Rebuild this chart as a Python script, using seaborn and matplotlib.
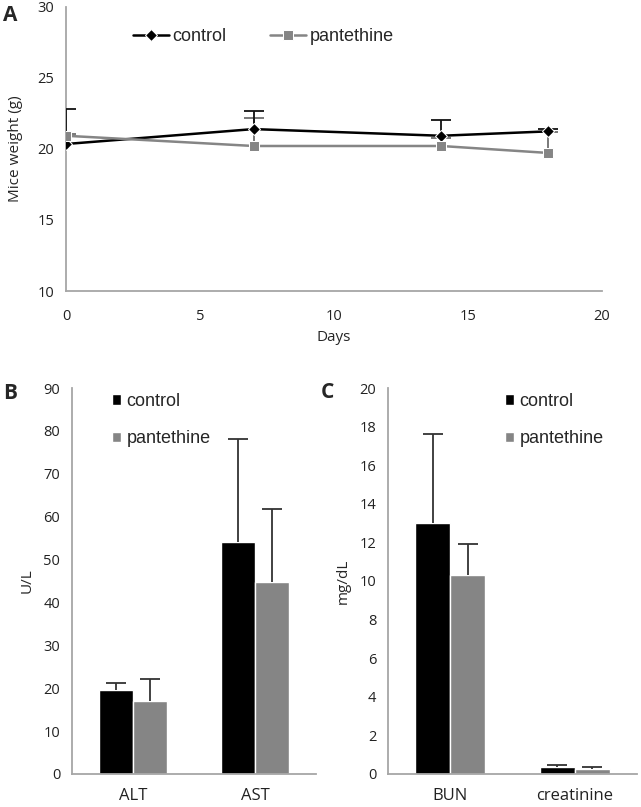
import numpy as np
import pandas as pd
import matplotlib.pyplot as plt
import seaborn as sns

sns.set_style('white')
plt.rcParams['font.family'] = ['Open Sans', 'DejaVu Sans']

# data
days = [0, 7, 14, 18]
ctrl_weight = [20.35, 21.4, 20.93, 21.24]
ctrl_weight_err = [2.45, 1.3, 1.13, 0.2]
pant_weight = [20.93, 20.21, 20.21, 19.72]
pant_weight_err = [0.12, 1.95, 0.55, 1.5]

liver_tests = ['ALT', 'AST']
ctrl_liver = [19.6, 54.0]
ctrl_liver_err = [1.6, 24.2]
pant_liver = [17.1, 44.8]
pant_liver_err = [5.0, 17.1]

kidney_tests = ['BUN', 'creatinine']
ctrl_kidney = [13.0, 0.35]
ctrl_kidney_err = [4.6, 0.1]
pant_kidney = [10.3, 0.28]
pant_kidney_err = [1.6, 0.1]

groups = ['control', 'pantethine']
colors = {'control': '#000000', 'pantethine': '#858585'}
axis_col = '#a6a6a6'
legend_font = {'family': 'Liberation Sans', 'size': 13}

fig = plt.figure(figsize=(6.41, 8.07), dpi=100)
axA = fig.add_axes([0.103, 0.6394, 0.836, 0.352])
axB = fig.add_axes([0.1123, 0.0409, 0.3807, 0.4783])
axC = fig.add_axes([0.6053, 0.0409, 0.3885, 0.4783])


def style_axis(ax):
    sns.despine(ax=ax)
    for s in ['left', 'bottom']:
        ax.spines[s].set_color(axis_col)
        ax.spines[s].set_linewidth(1.3)
    ax.tick_params(axis='both', which='major', direction='out', length=5,
                   width=1.3, color=axis_col, labelsize=10.5,
                   labelcolor='#222222')


def upper_err(ax, xs, ys, errs, color):
    eb = ax.errorbar(xs, ys, yerr=[np.zeros(len(xs)), errs], fmt='none',
                     ecolor=color, elinewidth=1.3, capsize=7.5,
                     capthick=1.3, zorder=3)
    eb[1][0].set_visible(False)


# A: weight over time
wdf = pd.DataFrame({
    'Days': days * 2,
    'weight': ctrl_weight + pant_weight,
    'group': ['control'] * 4 + ['pantethine'] * 4,
})
sns.lineplot(data=wdf, x='Days', y='weight', hue='group', style='group',
             markers={'control': 'D', 'pantethine': 's'}, dashes=False,
             palette=colors, linewidth=1.8, markersize=6.5, ax=axA, zorder=4)
upper_err(axA, days, pant_weight, pant_weight_err, '#6e6e6e')
upper_err(axA, days, ctrl_weight, ctrl_weight_err, '#111111')
axA.set_xlim(0, 20)
axA.set_ylim(10, 30)
axA.set_xticks([0, 5, 10, 15, 20])
axA.set_yticks([10, 15, 20, 25, 30])
axA.set_xlabel('Days', fontsize=11, labelpad=4)
axA.set_ylabel('Mice weight (g)', fontsize=11, labelpad=10)
style_axis(axA)
axA.tick_params(axis='x', pad=8)
axA.legend(title=None, ncol=2, frameon=False, loc='center left',
           bbox_to_anchor=(0.125, 0.895), borderaxespad=0, borderpad=0,
           handlelength=2.0, handletextpad=0.2, columnspacing=2.4,
           prop=legend_font)


def bar_panel(ax, tests, cvals, cerr, pvals, perr, ymax, step, ylabel, legx):
    df = pd.DataFrame({
        'test': tests * 2,
        'value': cvals + pvals,
        'group': ['control'] * len(tests) + ['pantethine'] * len(tests),
    })
    sns.barplot(data=df, x='test', y='value', hue='group', palette=colors,
                errorbar=None, width=0.56, saturation=1, ax=ax, zorder=2)
    for cont, errs in zip(ax.containers, [cerr, perr]):
        xs = [p.get_x() + p.get_width() / 2 for p in cont.patches]
        hs = [p.get_height() for p in cont.patches]
        upper_err(ax, xs, hs, errs, '#333333')
    ax.set_xlim(-0.5, len(tests) - 0.5)
    ax.set_ylim(0, ymax)
    ax.set_yticks(np.arange(0, ymax + step / 2, step))
    ax.set_xticks(np.arange(-0.5, len(tests), 1.0))
    ax.set_xticklabels([])
    ax.set_xticks(range(len(tests)), labels=tests, minor=True)
    ax.tick_params(axis='x', which='minor', length=0, pad=10, labelsize=12,
                   labelcolor='#222222')
    ax.set_xlabel('')
    ax.set_ylabel(ylabel, fontsize=11, labelpad=6)
    style_axis(ax)
    ax.legend(title=None, frameon=False, loc='upper left',
              bbox_to_anchor=(legx, 0.988), borderaxespad=0, borderpad=0,
              handlelength=0.5, handleheight=0.55, handletextpad=0.3,
              labelspacing=1.15, prop=legend_font)


bar_panel(axB, liver_tests, ctrl_liver, ctrl_liver_err, pant_liver,
          pant_liver_err, 90, 10, 'U/L', 0.164)
bar_panel(axC, kidney_tests, ctrl_kidney, ctrl_kidney_err, pant_kidney,
          pant_kidney_err, 20, 2, 'mg/dL', 0.47)

fig.text(0.005, 0.981, 'A', fontsize=15, fontweight='bold', va='center')
fig.text(0.005, 0.513, 'B', fontsize=15, fontweight='bold', va='center')
fig.text(0.5, 0.514, 'C', fontsize=15, fontweight='bold', va='center')

fig.savefig('out.png', dpi=100)
